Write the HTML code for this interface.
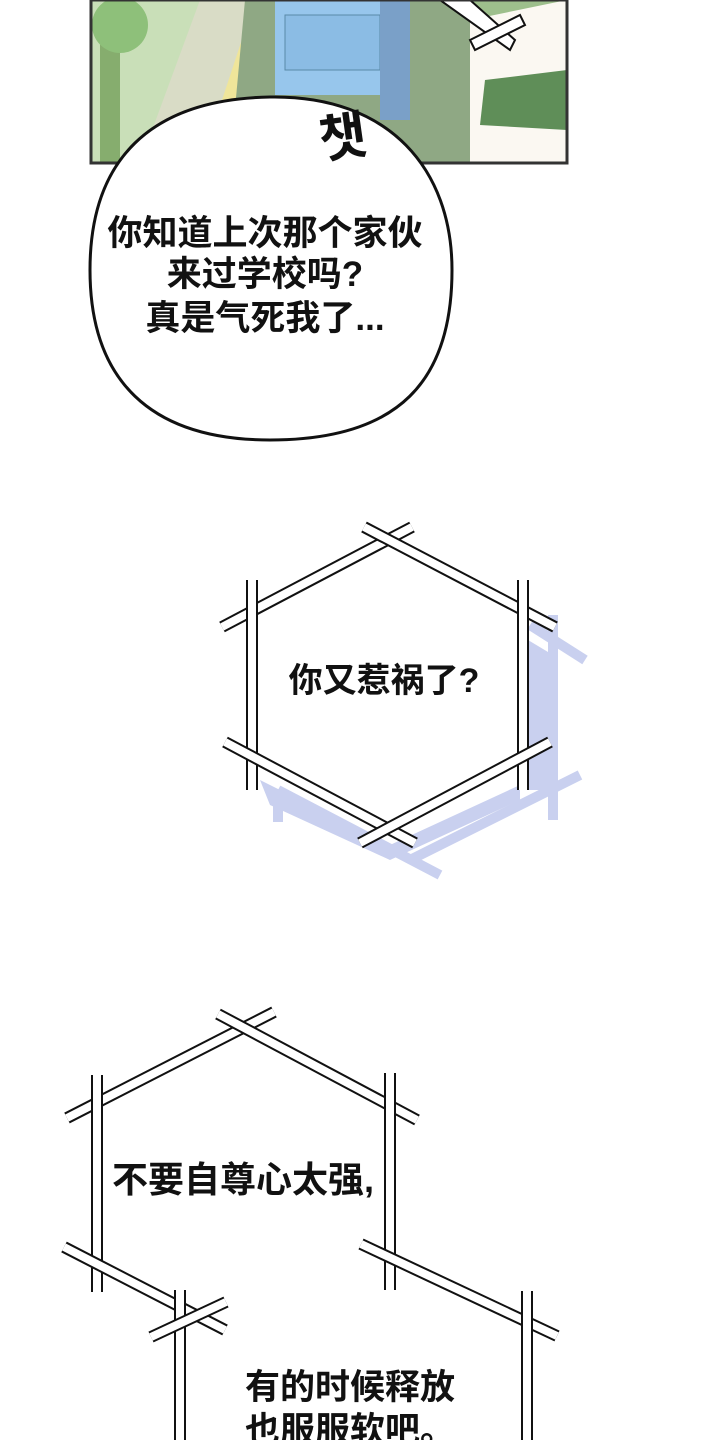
<!DOCTYPE html>
<html><head><meta charset="utf-8"><style>
html,body{margin:0;padding:0;background:#fff;}
svg{display:block}
text{font-family:"Liberation Sans","Noto Sans CJK SC",sans-serif;font-weight:bold;fill:#111;}
.b{stroke:#111;stroke-width:12;stroke-linecap:butt;fill:none}
.w{stroke:#fff;stroke-width:8;stroke-linecap:butt;fill:none}
</style></head><body>
<svg width="720" height="1440" viewBox="0 0 720 1440" xmlns="http://www.w3.org/2000/svg">
<rect x="91" y="0" width="476" height="163" fill="#9dbf8c"/>
<rect x="91" y="0" width="130" height="163" fill="#c9dfb8"/>
<polygon points="200,0 270,0 240,100 220,163 140,163" fill="#d9dcc6"/>
<polygon points="255,0 268,0 235,100 222,100" fill="#efe59a"/>
<rect x="100" y="20" width="20" height="143" fill="#86ad6e"/>
<circle cx="120" cy="25" r="28" fill="#8ec07a"/>
<polygon points="245,0 470,0 470,163 230,163" fill="#8fa884"/>
<rect x="275" y="0" width="115" height="95" fill="#97c6ec"/>
<rect x="285" y="15" width="95" height="55" fill="#8bbce4" stroke="#5a8aa8" stroke-width="1"/>
<rect x="380" y="0" width="30" height="120" fill="#7aa0c8"/>
<polygon points="470,20 567,0 567,163 470,163" fill="#fbf8f2"/>
<polygon points="485,80 567,70 567,130 480,125" fill="#5f8e58"/>
<polygon points="440,0 470,0 515,40 510,50" fill="#fff" stroke="#111" stroke-width="2"/>
<polygon points="470,40 520,15 525,25 475,50" fill="#fff" stroke="#111" stroke-width="2"/>
<rect x="91" y="0" width="476" height="163" fill="none" stroke="#333" stroke-width="3"/>
<path d="M270,97 C390,95 452,170 452,270 C452,380 400,440 270,440 C150,440 90,380 90,270 C90,160 150,99 270,97 Z" fill="#fff" stroke="#111" stroke-width="3"/>
<text x="318" y="155" font-size="52" style="font-family:'Noto Sans CJK KR',sans-serif" fill="#111" transform="rotate(-8 345 130)">챗</text>
<text x="265" y="245" font-size="35" text-anchor="middle">你知道上次那个家伙</text>
<text x="265" y="286" font-size="35" text-anchor="middle">来过学校吗?</text>
<text x="265" y="330" font-size="35" text-anchor="middle">真是气死我了...</text>
<g stroke="#c9d0ef" stroke-width="10" fill="none">
<line x1="278" y1="790" x2="278" y2="822"/>
<line x1="278" y1="790" x2="440" y2="875"/>
<line x1="410" y1="860" x2="580" y2="775"/>
<line x1="553" y1="615" x2="553" y2="820"/>
<line x1="530" y1="625" x2="585" y2="660"/>
<polygon points="528,640 553,655 553,790 528,790" fill="#c9d0ef" stroke="none"/>
<polygon points="260,780 390,845 520,785 520,800 390,860 270,805" fill="#c9d0ef" stroke="none"/>
</g>
<g>
<line class="b" x1="222" y1="627" x2="412" y2="527"/><line class="w" x1="222" y1="627" x2="412" y2="527"/>
<line class="b" x1="364" y1="527" x2="555" y2="627"/><line class="w" x1="364" y1="527" x2="555" y2="627"/>
<line class="b" x1="252" y1="580" x2="252" y2="790"/><line class="w" x1="252" y1="580" x2="252" y2="790"/>
<line class="b" x1="523" y1="580" x2="523" y2="790"/><line class="w" x1="523" y1="580" x2="523" y2="790"/>
<line class="b" x1="225" y1="742" x2="415" y2="843"/><line class="w" x1="225" y1="742" x2="415" y2="843"/>
<line class="b" x1="360" y1="843" x2="550" y2="742"/><line class="w" x1="360" y1="843" x2="550" y2="742"/>
</g>
<text x="384" y="692" font-size="34" text-anchor="middle">你又惹祸了?</text>
<g>
<line class="b" x1="67" y1="1118" x2="274" y2="1012"/><line class="w" x1="67" y1="1118" x2="274" y2="1012"/>
<line class="b" x1="218" y1="1014" x2="417" y2="1120"/><line class="w" x1="218" y1="1014" x2="417" y2="1120"/>
<line class="b" x1="97" y1="1075" x2="97" y2="1292"/><line class="w" x1="97" y1="1075" x2="97" y2="1292"/>
<line class="b" x1="390" y1="1073" x2="390" y2="1290"/><line class="w" x1="390" y1="1073" x2="390" y2="1290"/>
<line class="b" x1="64" y1="1247" x2="225" y2="1330"/><line class="w" x1="64" y1="1247" x2="225" y2="1330"/>
<line class="b" x1="361" y1="1244" x2="557" y2="1336"/><line class="w" x1="361" y1="1244" x2="557" y2="1336"/>
<line class="b" x1="180" y1="1290" x2="180" y2="1445"/><line class="w" x1="180" y1="1290" x2="180" y2="1445"/>
<line class="b" x1="151" y1="1337" x2="226" y2="1302"/><line class="w" x1="151" y1="1337" x2="226" y2="1302"/>
<line class="b" x1="527" y1="1291" x2="527" y2="1445"/><line class="w" x1="527" y1="1291" x2="527" y2="1445"/>
</g>
<text x="112" y="1192" font-size="36">不要自尊心太强,</text>
<text x="245" y="1399" font-size="35">有的时候释放</text>
<text x="245" y="1442" font-size="35">也服服软吧。</text>
</svg>
</body></html>
